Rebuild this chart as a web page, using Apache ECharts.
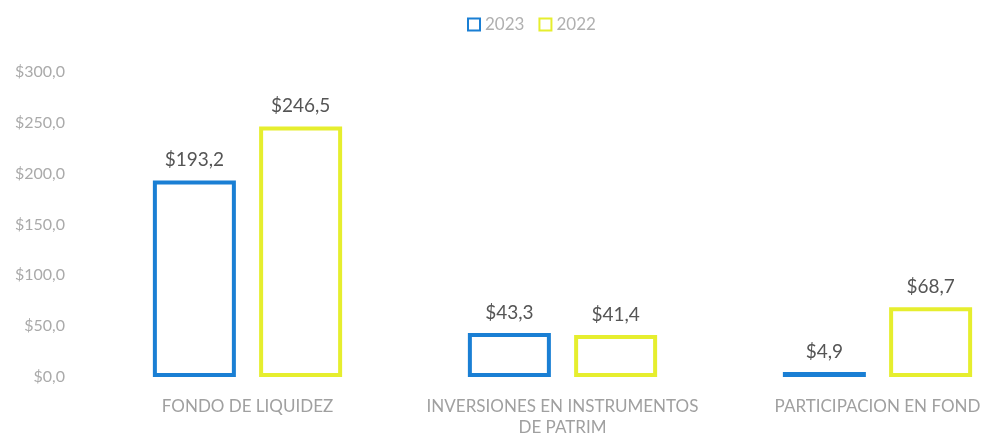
<!DOCTYPE html>
<html><head><meta charset="utf-8">
<script src="https://cdn.jsdelivr.net/npm/echarts@6/dist/echarts.min.js"></script>
<style>html,body{margin:0;padding:0;background:#fff}#c{width:987px;height:436px}</style>
</head><body><div id="c"></div>
<script>
const categories = ["FONDO DE LIQUIDEZ", "INVERSIONES EN INSTRUMENTOS\nDE PATRIM", "PARTICIPACION EN FOND"];
const values2023 = [193.2, 43.3, 4.9];
const values2022 = [246.5, 41.4, 68.7];
const seriesNames = ["2023", "2022"];
const yTicks = { min: 0, max: 300, interval: 50 };

const fmt = v => '$' + v.toFixed(1).replace('.', ',');
const font = 'Lato';
const chart = echarts.init(document.getElementById('c'));
function mk(name, data, color) {
  return {
    name, type: 'bar', data, barWidth: 83, barGap: '28%',
    itemStyle: { color: '#ffffff', borderColor: color, borderWidth: 4 },
    label: { show: true, position: 'top', distance: 11, formatter: p => fmt(p.value),
      color: '#555', fontSize: 19, fontFamily: font },
    emphasis: { disabled: true }
  };
}
chart.setOption({
  animation: false,
  legend: { top: 11, left: 462, itemWidth: 12, itemHeight: 12, itemGap: 14,
    textStyle: { color: '#b0b0b0', fontSize: 17, fontFamily: font }, icon: 'rect' },
  grid: { left: 90, top: 72, bottom: 59, width: 945, outerBoundsMode: 'none', containLabel: false },
  xAxis: { type: 'category', data: categories,
    axisLine: { show: false }, axisTick: { show: false },
    axisLabel: { color: '#a0a0a0', fontSize: 17, fontFamily: font, margin: 19, lineHeight: 21, interval: 0 } },
  yAxis: { type: 'value', min: yTicks.min, max: yTicks.max, interval: yTicks.interval,
    splitLine: { show: false }, axisLine: { show: false }, axisTick: { show: false },
    axisLabel: { color: '#aaa', fontSize: 16, fontFamily: font, margin: 25, formatter: fmt } },
  series: [mk(seriesNames[0], values2023, '#1a7fd4'), mk(seriesNames[1], values2022, '#e6ee2e')]
});
</script></body></html>
